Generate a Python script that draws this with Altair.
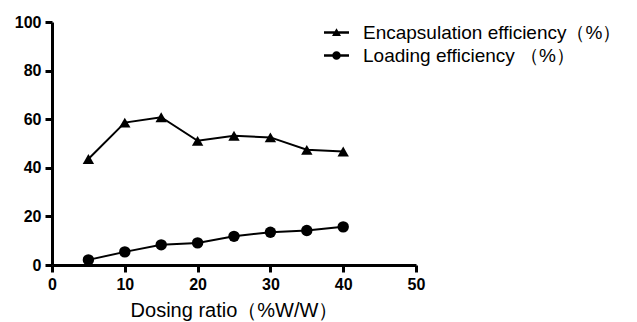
import altair as alt
import pandas as pd

ratio = [5, 10, 15, 20, 25, 30, 35, 40]
encapsulation = [43.6, 58.6, 60.8, 51.1, 53.2, 52.5, 47.4, 46.7]
loading = [2.1, 5.4, 8.3, 9.1, 11.8, 13.5, 14.2, 15.7]
series_names = ["Encapsulation efficiency（%）", "Loading efficiency （%）"]

df = pd.DataFrame({
    "ratio": ratio * 2,
    "value": encapsulation + loading,
    "series": [series_names[0]] * len(ratio) + [series_names[1]] * len(ratio),
})
df["legend_series"] = df["series"]

tri_path = "M-2.5,-0.25H2.5V0.25H-2.5Z M0,-0.85L0.9,0.7L-0.9,0.7Z"
circ_path = "M-2.5,-0.25H2.5V0.25H-2.5Z M0.85,0A0.85,0.85,0,1,1,-0.85,0A0.85,0.85,0,1,1,0.85,0Z"

legend = alt.Legend(
    title=None,
    orient="none",
    legendX=275,
    legendY=1,
    labelFont="Liberation Sans",
    labelFontSize=19,
    labelColor="black",
    labelOffset=17,
    labelLimit=500,
    rowPadding=3,
    symbolSize=100,
    symbolOpacity=1,
    symbolFillColor="black",
    symbolStrokeColor="black",
    symbolStrokeWidth=0,
)

x = alt.X("ratio:Q", scale=alt.Scale(domain=[0, 50], nice=False),
          axis=alt.Axis(values=[0, 10, 20, 30, 40, 50], title="Dosing ratio（%W/W）"))
y = alt.Y("value:Q", scale=alt.Scale(domain=[0, 100], nice=False),
          axis=alt.Axis(values=[0, 20, 40, 60, 80, 100], title=None))

lines = alt.Chart(df).mark_line(strokeWidth=2, color="black").encode(x=x, y=y, detail="series:N")
points = alt.Chart(df).mark_point(filled=True, opacity=1, size=130, color="black").encode(
    x=x, y=y,
    shape=alt.Shape("series:N", scale=alt.Scale(domain=series_names, range=["triangle-up", "circle"]), legend=None),
)
legend_layer = alt.Chart(df).mark_point(filled=True, opacity=0, size=100, color="black").encode(
    x=x, y=y,
    shape=alt.Shape("legend_series:N", scale=alt.Scale(domain=series_names, range=[tri_path, circ_path]), legend=legend),
)

chart = alt.layer(lines, points, legend_layer).resolve_scale(shape="independent").properties(
    width=364, height=243,
    autosize=alt.AutoSizeParams(type="none"),
    padding={"left": 52, "top": 22, "right": 221, "bottom": 57},
    background="white",
).configure_view(stroke=None).configure_axis(
    grid=False,
    domainColor="black",
    domainWidth=3,
    tickColor="black",
    tickWidth=3,
    tickSize=7,
    labelFont="Liberation Sans",
    labelFontWeight="bold",
    labelFontSize=16,
    labelColor="black",
    labelPadding=4,
    titleFont="Liberation Sans",
    titleFontWeight="normal",
    titleFontSize=20,
    titleColor="black",
    titlePadding=8,
).configure_axisX(labelFlush=False).configure_axisY(labelFlush=False)

chart.save("out.html", embed_options={"renderer": "svg", "actions": False})
